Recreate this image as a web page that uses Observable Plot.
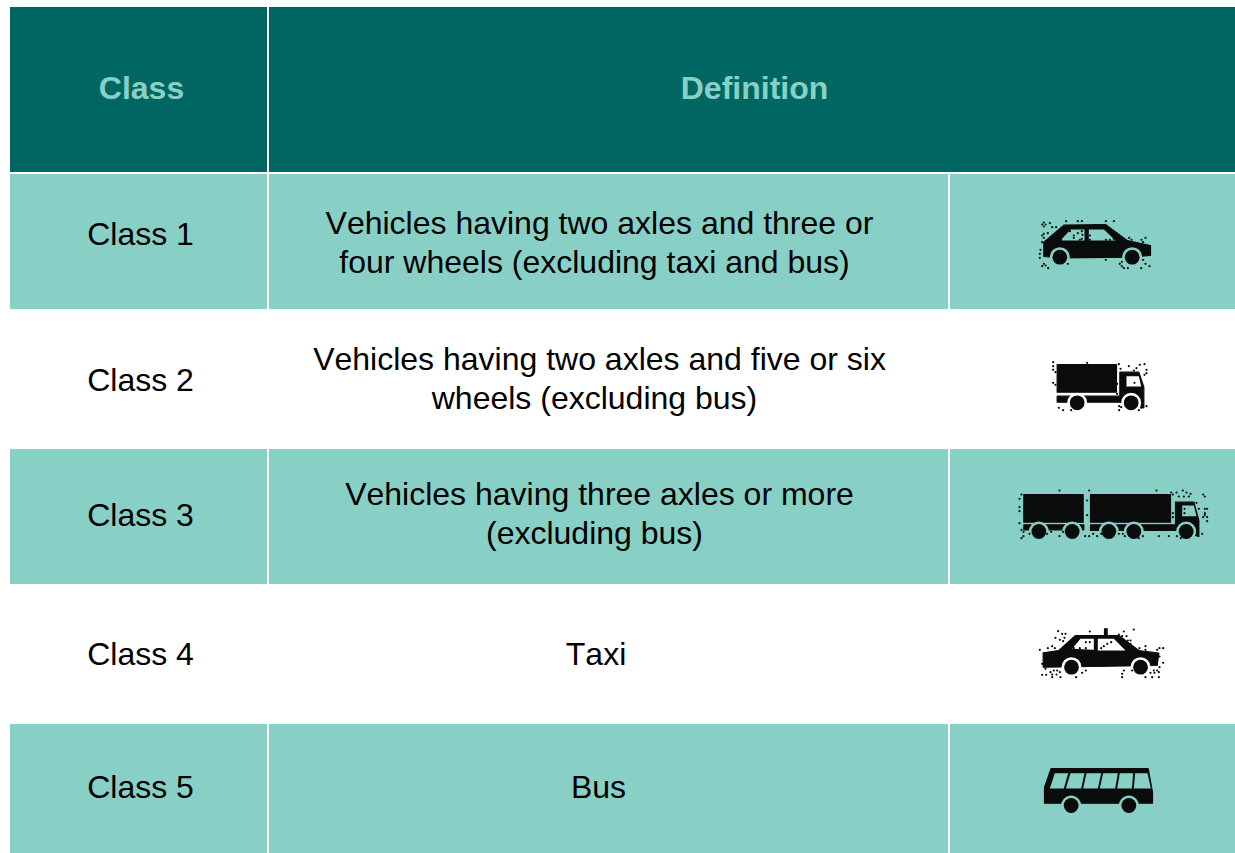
<!DOCTYPE html>
<html><head><meta charset="utf-8">
<script src="https://cdn.jsdelivr.net/npm/d3@7"></script>
<script src="https://cdn.jsdelivr.net/npm/@observablehq/plot@0.6"></script>
<style>html,body{margin:0;padding:0;background:#fff}svg{display:block}svg text{font-kerning:none}.icon{filter:blur(.5px)}</style>
</head><body><div id="chart"></div>
<script>
const dark="#006661", light="#88d0c5", ink="#0a0c0c", white="#ffffff";
// table grid edges
const colEdges=[[10,267],[269,948],[950,1235]];
const rowEdges=[[174,309],[311,447],[449,584],[586,722],[724,853]];
const rowFills=[light,white,light,white,light];
const headerCells=[{x1:10,x2:267,y1:7,y2:172},{x1:269,x2:1235,y1:7,y2:172}];
const headerTexts=[{x:141,y:88,t:"Class"},{x:754,y:88,t:"Definition"}];
const classNames=["Class 1","Class 2","Class 3","Class 4","Class 5"];
const classY=[234,380,515,654,787];
const defLines=[
 {x:599,y:223,t:"Vehicles having two axles and three or"},{x:594,y:262,t:"four wheels (excluding taxi and bus)"},
 {x:599,y:359,t:"Vehicles having two axles and five or six"},{x:594,y:398,t:"wheels (excluding bus)"},
 {x:599,y:494,t:"Vehicles having three axles or more"},{x:594,y:533,t:"(excluding bus)"},
 {x:595.5,y:654,t:"Taxi"},{x:598,y:787,t:"Bus"}];
// vehicle icons, in 1/3-pixel units from an icon origin
const carIcon={o:[1020,200],bg:light,
 body:[[[70,168],[70,125],[130,74],[255,72],[320,120],[390,135],[390,165],[330,170],[120,172]]],
 win:[[[120,120],[150,87],[192,87],[192,120]],[[205,87],[250,87],[285,120],[205,120]]],
 wheels:[[118,170],[335,170]],
 specks:[[65,72],[75,72],[70,66],[70,78],[88,68],[95,80],[107,80],[70,100],[65,105],[70,112],[82,98],[65,125],[60,148],[58,160],[58,172],[70,190],[65,197],[75,195],[83,203],[137,62],[172,62],[184,62],[256,62],[280,62],[148,92],[172,98],[184,92],[186,103],[160,105],[160,112],[184,115],[122,118],[178,118],[208,105],[208,118],[256,118],[268,118],[280,115],[326,112],[333,118],[363,118],[375,112],[368,125],[142,190],[256,178],[298,190],[304,184],[304,197],[310,203],[322,203],[362,203],[368,178],[375,190],[387,197]]};
const truckIcon={o:[1020,200],bg:white,
 body:[[[110,492],[288,492],[288,575],[110,575]],[[110,587],[298,587],[298,515],[355,515],[370,560],[370,622],[298,605],[110,605]]],
 win:[[[318,527],[355,527],[362,558],[318,558]]],
 wheels:[[170,607],[332,607]],
 specks:[[98,485],[98,497],[98,508],[105,515],[98,547],[105,553],[200,487],[295,491],[300,505],[325,497],[348,503],[358,493],[372,491],[340,510],[378,508],[378,518],[372,523],[342,547],[290,550],[290,580],[115,622],[128,629],[152,629],[296,617],[302,620],[296,629],[355,629],[362,622],[378,617]]};
const roadTrainIcon={o:[1010,470],bg:light,
 body:[[[40,72],[218,72],[218,155],[40,155]],[[240,72],[480,72],[480,155],[240,155]],[[40,163],[220,163],[220,178],[40,178]],[[240,163],[495,163],[495,95],[550,95],[565,150],[565,198],[495,180],[240,180]]],
 win:[[[515,105],[550,105],[558,137],[515,137]]],
 wheels:[[85,183],[185,183],[295,183],[370,183],[527,183]],
 specks:[[147,60],[236,60],[438,60],[482,66],[498,66],[517,60],[528,66],[540,70],[505,78],[520,78],[535,78],[487,72],[33,72],[27,85],[27,110],[27,122],[230,90],[230,134],[27,158],[578,72],[583,78],[558,97],[565,115],[583,115],[590,115],[583,128],[578,140],[590,140],[583,134],[590,152],[522,115],[522,128],[487,128],[487,140],[33,178],[39,184],[39,197],[33,203],[57,190],[110,190],[122,184],[147,197],[158,184],[224,197],[236,197],[248,190],[260,197],[272,190],[325,190],[337,190],[343,197],[385,203],[397,197],[445,197],[475,197],[499,197],[511,203],[575,190]]};
const taxiIcon={o:[1010,470],bg:white,
 body:[[[98,547],[145,540],[195,495],[282,495],[282,475],[290,475],[290,495],[325,495],[385,540],[445,548],[440,585],[98,590]]],
 win:[[[185,535],[210,505],[250,505],[250,538]],[[262,505],[310,505],[345,540],[262,540]]],
 wheels:[[183,590],[390,590]],
 specks:[[143,482],[155,490],[165,490],[135,502],[148,508],[158,512],[162,502],[238,483],[370,477],[340,483],[325,492],[335,497],[348,497],[340,507],[352,510],[360,520],[360,510],[226,515],[238,515],[88,538],[112,533],[125,527],[133,533],[190,533],[208,533],[226,533],[272,533],[280,527],[290,520],[302,515],[387,533],[405,527],[405,538],[440,538],[447,533],[458,533],[447,558],[458,577],[447,590],[440,600],[430,600],[420,607],[432,607],[445,605],[425,620],[445,620],[405,620],[95,580],[105,595],[95,613],[107,613],[120,605],[130,600],[125,612],[140,600],[148,605],[138,612],[125,620],[150,620],[197,620],[215,607],[226,600],[340,600],[335,610],[335,620],[365,600]]};
const busIcon={o:[1020,750],bg:light,
 body:[[[92,54],[383,54],[396,125],[396,158],[72,158],[72,110]]],
 win:[[[88,114],[103,68],[143,68],[130,114]],[[136,114],[150,68],[192,68],[182,114]],[[188,114],[198,68],[242,68],[232,114]],[[238,114],[248,68],[292,68],[284,114]],[[290,114],[298,68],[338,68],[334,114]],[[340,114],[344,68],[381,68],[391,114]]],
 wheels:[[152,165],[325,165]],
 specks:[]};
const icons=[carIcon,truckIcon,roadTrainIcon,taxiIcon,busIcon];

const cells=rowEdges.flatMap(([y1,y2],i)=>colEdges.map(([x1,x2])=>({x1,x2,y1,y2,fill:rowFills[i]})));
const place=(ic,[u,v])=>({x:ic.o[0]+u/3,y:ic.o[1]+v/3});
const polys=(ic,key)=>ic[key].flatMap((p,k)=>p.map(q=>({...place(ic,q),z:k})));
const font="Liberation Sans, Arial, sans-serif";
const iconMarks=icons.flatMap(ic=>[
 Plot.line(polys(ic,"body"),{x:"x",y:"y",z:"z",fill:ink,stroke:ink,strokeWidth:1.2,strokeLinejoin:"round",curve:"linear-closed",className:"icon"}),
 Plot.dot(ic.wheels.map(q=>place(ic,q)),{x:"x",y:"y",r:10,fill:ic.bg,stroke:null,className:"icon"}),
 Plot.dot(ic.wheels.map(q=>place(ic,q)),{x:"x",y:"y",r:7.4,fill:ink,stroke:null,className:"icon"}),
 Plot.line(polys(ic,"win"),{x:"x",y:"y",z:"z",fill:ic.bg,stroke:null,curve:"linear-closed",className:"icon"}),
 Plot.dot(ic.specks.map(q=>place(ic,q)),{x:"x",y:"y",r:1.1,fill:ink,stroke:null})
]);
const plot=Plot.plot({
 width:1235,height:853,margin:0,
 x:{domain:[0,1235],range:[0,1235],axis:null},
 y:{domain:[0,853],range:[0,853],axis:null},
 style:{background:"#fff"},
 marks:[
  Plot.rect(headerCells,{x1:"x1",x2:"x2",y1:"y1",y2:"y2",fill:dark}),
  Plot.rect(cells,{x1:"x1",x2:"x2",y1:"y1",y2:"y2",fill:d=>d.fill}),
  Plot.text(headerTexts,{x:"x",y:"y",text:"t",fill:light,fontSize:32,fontWeight:"bold",fontFamily:font}),
  Plot.text(classNames,{x:()=>140,y:(d,i)=>classY[i],text:d=>d,fill:"#000",fontSize:32,fontFamily:font}),
  Plot.text(defLines,{x:"x",y:"y",text:"t",fill:"#000",fontSize:32,fontFamily:font}),
  ...iconMarks
 ]
});
document.getElementById("chart").append(plot);
</script></body></html>
